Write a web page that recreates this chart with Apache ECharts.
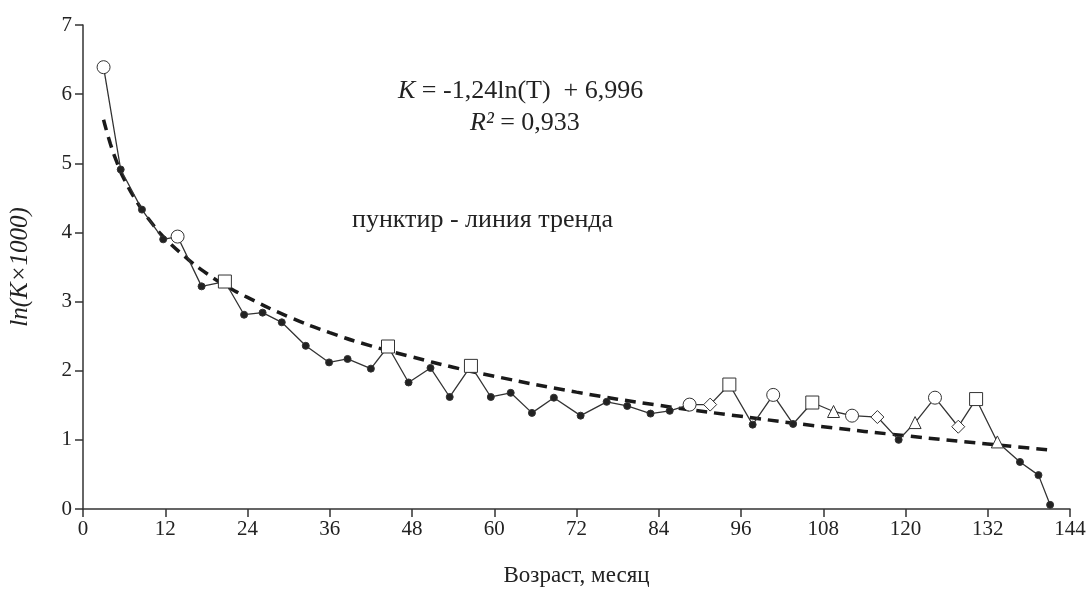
<!DOCTYPE html>
<html>
<head>
<meta charset="utf-8">
<script src="https://cdn.jsdelivr.net/npm/echarts@6/dist/echarts.min.js"></script>
<style>
html, body { margin: 0; padding: 0; background: #fff; }
#chart { width: 1089px; height: 592px; }
</style>
</head>
<body>
<div id="chart"></div>
<script>
// возраст (мес.) и ln(K*1000)
var ageMonths = [3, 5.5, 8.6, 11.7, 13.8, 17.3, 20.7, 23.5, 26.2, 29, 32.5, 35.9, 38.6, 42, 44.5, 47.5,
    50.7, 53.5, 56.6, 59.5, 62.4, 65.5, 68.7, 72.6, 76.4, 79.4, 82.8, 85.6, 88.5, 91.5, 94.3, 97.7,
    100.7, 103.6, 106.4, 109.5, 112.2, 115.9, 119, 121.4, 124.3, 127.7, 130.3, 133.4, 136.7, 139.4, 141.1];
var lnK = [6.39, 4.91, 4.33, 3.90, 3.94, 3.22, 3.29, 2.81, 2.84, 2.70, 2.36, 2.12, 2.17, 2.03, 2.35, 1.83,
    2.04, 1.62, 2.07, 1.62, 1.68, 1.39, 1.61, 1.35, 1.55, 1.49, 1.38, 1.42, 1.51, 1.51, 1.80, 1.22,
    1.65, 1.23, 1.54, 1.41, 1.35, 1.33, 1.00, 1.25, 1.61, 1.19, 1.59, 0.97, 0.68, 0.49, 0.06];
// маркеры: d - точка, o - кружок, s - квадрат, t - треугольник, v - ромб
var markers = ['o', 'd', 'd', 'd', 'o', 'd', 's', 'd', 'd', 'd', 'd', 'd', 'd', 'd', 's', 'd',
    'd', 'd', 's', 'd', 'd', 'd', 'd', 'd', 'd', 'd', 'd', 'd', 'o', 'v', 's', 'd',
    'o', 'd', 's', 't', 'o', 'v', 'd', 't', 'o', 'v', 's', 't', 'd', 'd', 'd'];

// линия тренда (пунктир)
var trendX = [3, 4, 5, 6, 8, 10, 12, 15, 18, 21, 24, 30, 36, 42, 48, 54, 60, 72, 84, 96, 108, 120, 132, 141.5];
var trendY = [5.63, 5.28, 5.00, 4.77, 4.42, 4.14, 3.91, 3.64, 3.41, 3.22, 3.06, 2.78, 2.55, 2.36, 2.20, 2.05,
    1.92, 1.69, 1.50, 1.34, 1.19, 1.06, 0.94, 0.85];

var xTicks = [0, 12, 24, 36, 48, 60, 72, 84, 96, 108, 120, 132, 144];
var yTicks = [0, 1, 2, 3, 4, 5, 6, 7];

var symbolMap = {
    d: { symbol: 'circle', size: 7, fill: '#222' },
    o: { symbol: 'circle', size: 13, fill: '#fff' },
    s: { symbol: 'rect', size: 13, fill: '#fff' },
    t: { symbol: 'triangle', size: 12, fill: '#fff' },
    v: { symbol: 'diamond', size: 13, fill: '#fff' }
};

var points = ageMonths.map(function (x, i) {
    var m = symbolMap[markers[i]];
    return {
        value: [x, lnK[i]],
        symbol: m.symbol,
        symbolSize: m.size,
        itemStyle: { color: m.fill, borderColor: '#333', borderWidth: 1 }
    };
});
var trend = trendX.map(function (x, i) { return [x, trendY[i]]; });

var font = '"Liberation Serif", "DejaVu Serif", serif';
var chart = echarts.init(document.getElementById('chart'));
chart.setOption({
    animation: false,
    backgroundColor: '#fff',
    grid: { left: 82, right: 19, top: 25, bottom: 83 },
    xAxis: {
        type: 'value',
        min: xTicks[0],
        max: xTicks[xTicks.length - 1],
        interval: 12,
        name: 'Возраст, месяц',
        nameLocation: 'middle',
        nameGap: 55,
        nameTextStyle: { fontFamily: font, fontSize: 23, color: '#222' },
        axisLine: { lineStyle: { color: '#333', width: 1.5 } },
        axisTick: { inside: false, length: 8, lineStyle: { color: '#333', width: 1.5 } },
        axisLabel: { fontFamily: font, fontSize: 21, color: '#222', margin: 10 },
        splitLine: { show: false }
    },
    yAxis: {
        type: 'value',
        min: yTicks[0],
        max: yTicks[yTicks.length - 1],
        interval: 1,
        name: 'ln(K×1000)',
        nameLocation: 'middle',
        nameGap: 50,
        nameRotate: 90,
        nameTextStyle: { fontFamily: font, fontSize: 25, fontStyle: 'italic', color: '#222' },
        axisLine: { show: true, lineStyle: { color: '#333', width: 1.5 } },
        axisTick: { show: true, length: 8, lineStyle: { color: '#333', width: 1.5 } },
        axisLabel: { fontFamily: font, fontSize: 21, color: '#222', margin: 11 },
        splitLine: { show: false }
    },
    graphic: [{
        type: 'text',
        left: 398, top: 78,
        style: {
            text: '{i|K} = -1,24ln(T)  + 6,996',
            fontFamily: font, fontSize: 26, fill: '#222',
            rich: { i: { fontFamily: font, fontSize: 26, fontStyle: 'italic', fill: '#222' } }
        }
    }, {
        type: 'text',
        left: 470, top: 110,
        style: {
            text: '{i|R²} = 0,933',
            fontFamily: font, fontSize: 26, fill: '#222',
            rich: { i: { fontFamily: font, fontSize: 26, fontStyle: 'italic', fill: '#222' } }
        }
    }, {
        type: 'text',
        left: 352, top: 207,
        style: { text: 'пунктир - линия тренда', fontFamily: font, fontSize: 26, fill: '#222' }
    }],
    series: [{
        type: 'line',
        data: trend,
        smooth: true,
        showSymbol: false,
        lineStyle: { color: '#1a1a1a', width: 3.5, type: [11, 7] },
        z: 3
    }, {
        type: 'line',
        data: points,
        lineStyle: { color: '#333', width: 1.3 },
        z: 4
    }]
});
</script>
</body>
</html>
